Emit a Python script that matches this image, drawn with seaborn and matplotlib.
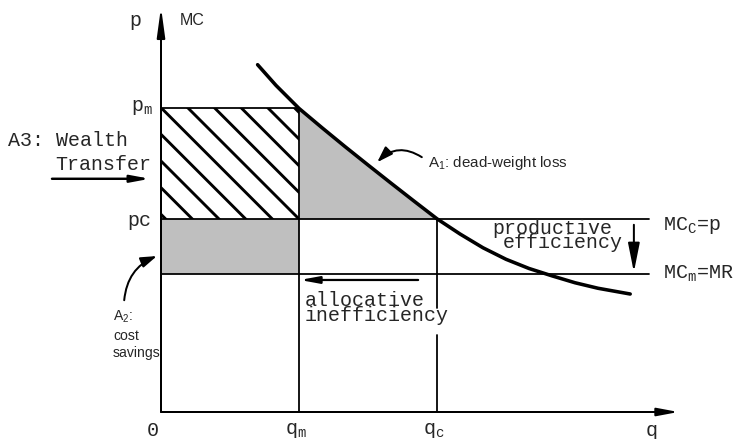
import numpy as np
import pandas as pd
import matplotlib
matplotlib.use("Agg")
import matplotlib.pyplot as plt
import seaborn as sns

# ---------------- data ----------------
demand_q = [2.1, 2.5, 3.0, 3.5, 4.0, 4.5, 5.0, 5.5, 6.0, 6.5, 7.0, 7.5, 8.0, 8.5, 9.0, 9.5, 10.2]
demand_p = [7.55, 7.1, 6.6, 6.18, 5.77, 5.37, 4.975, 4.585, 4.2, 3.87, 3.57, 3.32, 3.12,
            2.96, 2.81, 2.69, 2.565]
q_m, q_c = 3.0, 6.0
p_m, p_c = 6.6, 4.2
mc_m = 3.0
q_axis_end = 11.25
p_axis_end = 8.8
mc_line_end = 10.6
tick_pos = [-0.17, 2.93, 5.93, 10.67]
tick_labels = ["0", r"q$_{\rm m}$", r"q$_{\rm c}$", "q"]

# ---------------- style ----------------
sns.set_style("white")
plt.rcParams["mathtext.fontset"] = "custom"
plt.rcParams["mathtext.rm"] = "Liberation Mono"
plt.rcParams["mathtext.it"] = "Liberation Mono"
plt.rcParams["mathtext.sf"] = "Liberation Sans"
plt.rcParams["hatch.linewidth"] = 1.3
MONO = "Liberation Mono"
SANS = "Liberation Sans"
GRAY = "#bfbfbf"
DPI = 160

fig = plt.figure(figsize=(736 / DPI, 439 / DPI), dpi=DPI)
ax = fig.add_axes([0, 0, 1, 1])
ax.set_xlim(-161 / 46, (736 - 161) / 46)
ax.set_ylim((412 - 439) / 46, 412 / 46)
ax.axis("off")

df = pd.DataFrame({"q": demand_q, "p": demand_p})

# shaded areas
ax.fill_between([0, q_m], [p_c, p_c], [p_m, p_m], facecolor="white",
                edgecolor="black", hatch="\\\\", linewidth=0, zorder=1)
ax.fill_between([0, q_m], [mc_m, mc_m], [p_c, p_c], color=GRAY, linewidth=0, zorder=1)
tri = df[(df.q >= q_m) & (df.q <= q_c)]
ax.fill_between(tri.q, p_c, tri.p, color=GRAY, linewidth=0, zorder=1)

# reference lines
lw = 0.8
ax.plot([0, q_m], [p_m, p_m], color="black", lw=lw, zorder=3)
ax.plot([0, mc_line_end], [p_c, p_c], color="black", lw=lw, zorder=3)
ax.plot([0, mc_line_end], [mc_m, mc_m], color="black", lw=lw, zorder=3)
ax.plot([q_m, q_m], [0, p_m], color="black", lw=lw, zorder=3)
ax.plot([q_c, q_c], [0, 1.67], color="black", lw=lw, zorder=3)
ax.plot([q_c, q_c], [2.26, p_c], color="black", lw=lw, zorder=3)

# demand curve
sns.lineplot(data=df, x="q", y="p", sort=False, color="black", lw=1.6, ax=ax, zorder=4)
ax.set_xlabel("")
ax.set_ylabel("")

# axes with arrows
ax.annotate("", xy=(0, p_axis_end), xytext=(0, 0),
            arrowprops=dict(arrowstyle="-|>,head_length=1.1,head_width=0.15",
                            lw=0.9, color="black", shrinkA=0, shrinkB=0))
ax.annotate("", xy=(q_axis_end, 0), xytext=(0, 0),
            arrowprops=dict(arrowstyle="-|>,head_length=0.8,head_width=0.15",
                            lw=0.9, color="black", shrinkA=0, shrinkB=0))

# annotation arrows
ax.annotate("", xy=(-0.24, 5.07), xytext=(-2.37, 5.07),
            arrowprops=dict(arrowstyle="-|>,head_length=0.7,head_width=0.13",
                            lw=1.1, color="black", shrinkA=0, shrinkB=0))
ax.annotate("", xy=(3.02, 2.87), xytext=(5.59, 2.87),
            arrowprops=dict(arrowstyle="-|>,head_length=0.7,head_width=0.13",
                            lw=1.0, color="black", shrinkA=0, shrinkB=0))
ax.annotate("", xy=(10.28, 3.04), xytext=(10.28, 4.07),
            arrowprops=dict(arrowstyle="-|>,head_length=1.1,head_width=0.22",
                            lw=0.9, color="black", shrinkA=0, shrinkB=0))
ax.annotate("", xy=(4.70, 5.43), xytext=(5.67, 5.54),
            arrowprops=dict(arrowstyle="-|>,head_length=0.6,head_width=0.2",
                            connectionstyle="arc3,rad=0.4",
                            lw=0.9, color="black", shrinkA=0, shrinkB=0))
ax.annotate("", xy=(-0.09, 3.39), xytext=(-0.80, 2.43),
            arrowprops=dict(arrowstyle="-|>,head_length=0.6,head_width=0.2",
                            connectionstyle="arc3,rad=-0.3",
                            lw=0.9, color="black", shrinkA=0, shrinkB=0))

# texts
ms = 9
ax.text(-0.565, 8.5, "p", family=MONO, size=ms, ha="center", va="center")
ax.text(0.67, 8.52, "MC", family=SANS, size=7.2, ha="center", va="center")
ax.text(-0.17, 6.54, r"p$_{\rm m}$", family=MONO, size=ms, ha="right", va="baseline")
ax.text(-0.2, 4.04, "pc", family=MONO, size=ms, ha="right", va="baseline")
ax.text(-3.33, 5.78, "A3: Wealth", family=MONO, size=ms, ha="left", va="baseline")
ax.text(-2.30, 5.26, "Transfer", family=MONO, size=ms, ha="left", va="baseline")
ax.text(5.80, 5.33, r"A$_{\mathsf{1}}$: dead-weight loss", family=SANS, size=6.8,
        ha="left", va="baseline")
ax.text(7.20, 3.86, "productive", family=MONO, size=ms, ha="left", va="baseline")
ax.text(7.43, 3.57, "efficiency", family=MONO, size=ms, ha="left", va="baseline")
ax.text(10.91, 3.96, r"MC$_{\rm C}$=p", family=MONO, size=ms, ha="left", va="baseline")
ax.text(10.91, 2.89, r"MC$_{\rm m}$=MR", family=MONO, size=ms, ha="left", va="baseline")
ax.text(3.13, 2.31, "allocative", family=MONO, size=ms, ha="left", va="baseline")
ax.text(3.13, 1.98, "inefficiency", family=MONO, size=ms, ha="left", va="baseline")
ax.text(-1.04, 1.98, r"A$_{\mathsf{2}}$:", family=SANS, size=6.3, ha="left", va="baseline")
ax.text(-1.04, 1.57, "cost", family=SANS, size=6.3, ha="left", va="baseline")
ax.text(-1.04, 1.20, "savings", family=SANS, size=6.3, ha="left", va="baseline")
for xp, lab in zip(tick_pos, tick_labels):
    ax.text(xp, -0.41, lab, family=MONO, size=ms, ha="center", va="center")

fig.savefig("out.png", dpi=DPI, facecolor="white")
